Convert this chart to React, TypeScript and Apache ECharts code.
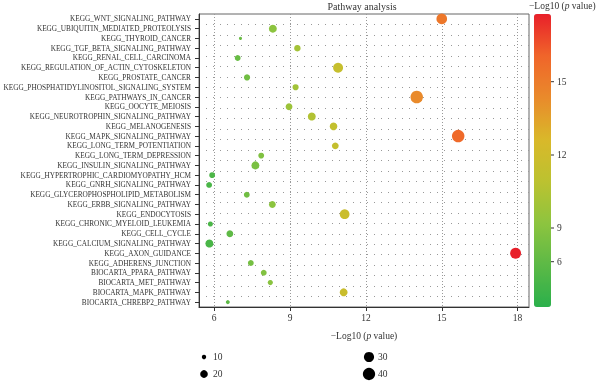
import React, { useEffect, useRef } from 'react';
import * as echarts from 'echarts';

const categories = [
  'KEGG_WNT_SIGNALING_PATHWAY',
  'KEGG_UBIQUITIN_MEDIATED_PROTEOLYSIS',
  'KEGG_THYROID_CANCER',
  'KEGG_TGF_BETA_SIGNALING_PATHWAY',
  'KEGG_RENAL_CELL_CARCINOMA',
  'KEGG_REGULATION_OF_ACTIN_CYTOSKELETON',
  'KEGG_PROSTATE_CANCER',
  'KEGG_PHOSPHATIDYLINOSITOL_SIGNALING_SYSTEM',
  'KEGG_PATHWAYS_IN_CANCER',
  'KEGG_OOCYTE_MEIOSIS',
  'KEGG_NEUROTROPHIN_SIGNALING_PATHWAY',
  'KEGG_MELANOGENESIS',
  'KEGG_MAPK_SIGNALING_PATHWAY',
  'KEGG_LONG_TERM_POTENTIATION',
  'KEGG_LONG_TERM_DEPRESSION',
  'KEGG_INSULIN_SIGNALING_PATHWAY',
  'KEGG_HYPERTROPHIC_CARDIOMYOPATHY_HCM',
  'KEGG_GNRH_SIGNALING_PATHWAY',
  'KEGG_GLYCEROPHOSPHOLIPID_METABOLISM',
  'KEGG_ERBB_SIGNALING_PATHWAY',
  'KEGG_ENDOCYTOSIS',
  'KEGG_CHRONIC_MYELOID_LEUKEMIA',
  'KEGG_CELL_CYCLE',
  'KEGG_CALCIUM_SIGNALING_PATHWAY',
  'KEGG_AXON_GUIDANCE',
  'KEGG_ADHERENS_JUNCTION',
  'BIOCARTA_PPARA_PATHWAY',
  'BIOCARTA_MET_PATHWAY',
  'BIOCARTA_MAPK_PATHWAY',
  'BIOCARTA_CHREBP2_PATHWAY',
];

const negLog10P = [
  15.0, 8.32, 7.04, 9.29, 6.93, 10.9, 7.3, 9.22, 14.01, 8.96,
  9.86, 10.72, 15.65, 10.79, 7.86, 7.63, 5.92, 5.8, 7.29, 8.3,
  11.16, 5.85, 6.62, 5.81, 17.92, 7.45, 7.96, 8.22, 11.12, 6.54,
];

const geneCounts = [
  32, 21, 7, 16, 14, 29, 15, 15, 41, 17,
  21, 20, 41, 17, 14, 21, 14, 14, 14, 17,
  28, 12, 17, 21, 33, 14, 14, 12, 21, 9,
];

const xTicks = [6, 9, 12, 15, 18];
const colorbarTicks = [15, 12, 9, 6];
const sizeLegend = [10, 20, 30, 40];

const FONT = '"Liberation Serif", "Times New Roman", serif';
const TEXT = '#333';
const sizeOf = (n: number) => 2.5 * Math.sqrt(n) - 3.5;

export default function App() {
  const ref = useRef<HTMLDivElement>(null);
  useEffect(() => {
    const chart = echarts.init(ref.current!, null, { renderer: 'svg' });
    const data = categories.map((c, i) => [negLog10P[i], c, geneCounts[i]]);

    const cbTop = 14;
    const cbHeight = 293;
    const cbLeft = 534;
    const cbWidth = 17;
    const cbTickY = [81.7, 155, 228, 261.7];

    const graphic: any[] = [
      {
        type: 'text',
        x: 362,
        y: 6,
        style: {
          text: 'Pathway analysis',
          fontSize: 10,
          fontFamily: FONT,
          fill: TEXT,
          align: 'center',
          verticalAlign: 'middle',
        },
      },
      {
        type: 'text',
        x: 529,
        y: 6,
        style: {
          text: '\u2212Log10 ({i|p} value)',
          fontSize: 9.5,
          fontFamily: FONT,
          fill: TEXT,
          align: 'left',
          verticalAlign: 'middle',
          rich: { i: { fontStyle: 'italic', fontSize: 9.5, fontFamily: FONT, fill: TEXT } },
        },
      },
    ];
    colorbarTicks.forEach((t, i) => {
      const y = cbTickY[i];
      graphic.push({
        type: 'line',
        shape: { x1: cbLeft + cbWidth, y1: y, x2: cbLeft + cbWidth + 3, y2: y },
        style: { stroke: TEXT, lineWidth: 1 },
        z: 100,
      });
      graphic.push({
        type: 'text',
        x: cbLeft + cbWidth + 6,
        y,
        z: 100,
        style: {
          text: String(t),
          fontSize: 9.5,
          fontFamily: FONT,
          fill: TEXT,
          align: 'left',
          verticalAlign: 'middle',
        },
      });
    });
    sizeLegend.forEach((n, i) => {
      const col = Math.floor(i / 2);
      const row = i % 2;
      const cx = col === 0 ? 204 : 369;
      const cy = row === 0 ? 357 : 374;
      graphic.push({
        type: 'circle',
        shape: { cx, cy, r: sizeOf(n) / 2 },
        style: { fill: '#000' },
      });
      graphic.push({
        type: 'text',
        x: cx + 9,
        y: cy,
        style: {
          text: String(n),
          fontSize: 9.5,
          fontFamily: FONT,
          fill: TEXT,
          align: 'left',
          verticalAlign: 'middle',
        },
      });
    });

    const option: any = {
      animation: false,
      grid: {
        left: 199,
        right: 71,
        top: cbTop,
        bottom: 75,
        show: true,
        borderColor: '#666',
        borderWidth: 1,
        containLabel: false,
        outerBoundsMode: 'none',
      },
      xAxis: {
        type: 'value',
        min: 5.4,
        max: 18.45,
        interval: 3,
        axisLine: { show: true, onZero: false, lineStyle: { color: TEXT } },
        axisTick: { show: true, length: 4, customValues: xTicks, lineStyle: { color: TEXT } },
        axisLabel: {
          customValues: xTicks,
          margin: 6,
          fontFamily: FONT,
          fontSize: 9.5,
          color: TEXT,
        },
        splitLine: {
          show: true,
          lineStyle: { type: [1, 2], color: '#999', width: 1 },
        },
        name: '\u2212Log10 ({i|p} value)',
        nameLocation: 'middle',
        nameGap: 24,
        nameTextStyle: {
          fontFamily: FONT,
          fontSize: 9.5,
          color: TEXT,
          rich: { i: { fontStyle: 'italic', fontFamily: FONT, fontSize: 9.5, color: TEXT } },
        },
      },
      yAxis: [
        {
          type: 'category',
          data: categories,
          inverse: true,
          axisLine: { show: true, onZero: false, lineStyle: { color: TEXT } },
          axisTick: { show: true, alignWithLabel: true, interval: 0, length: 4, lineStyle: { color: TEXT } },
          axisLabel: { interval: 0, fontSize: 7.3, margin: 8, fontFamily: FONT, color: TEXT },
          splitLine: { show: false },
        },
        {
          type: 'value',
          min: -0.5,
          max: 27.5,
          interval: 1,
          position: 'right',
          axisLine: { show: false },
          axisTick: { show: false },
          axisLabel: { show: false },
          splitLine: {
            show: true,
            showMinLine: false,
            showMaxLine: false,
            lineStyle: { type: [1, 6], color: '#999', width: 1 },
          },
        },
      ],
      visualMap: {
        type: 'continuous',
        dimension: 0,
        seriesIndex: 0,
        min: 4.6,
        max: 17.8,
        calculable: false,
        hoverLink: false,
        left: cbLeft - 15,
        top: cbTop - 15,
        itemWidth: cbWidth,
        itemHeight: cbHeight,
        inRange: {
          color: ['#2bb04b', '#5cb946', '#8dc43f', '#bcc230', '#d9b82a', '#e98a2b', '#f0652a', '#e8202a'],
        },
      },
      series: [
        {
          type: 'scatter',
          yAxisIndex: 0,
          data,
          symbolSize: (v: number[]) => sizeOf(v[2]),
          itemStyle: { opacity: 1 },
        },
      ],
      graphic,
    };
    chart.setOption(option);
    return () => chart.dispose();
  }, []);
  return <div ref={ref} style={{ position: 'fixed', left: 0, top: 0, width: 600, height: 382 }} />;
}
